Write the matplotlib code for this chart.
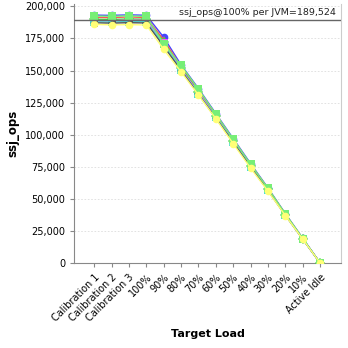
import matplotlib
matplotlib.use("Agg")
import matplotlib.pyplot as plt
from matplotlib.ticker import FuncFormatter

categories = ["Calibration 1", "Calibration 2", "Calibration 3", "100%", "90%", "80%",
              "70%", "60%", "50%", "40%", "30%", "20%", "10%", "Active Idle"]

# ssj_ops per JVM
jvm_1 = [193200, 193000, 193400, 193100, 176000, 154500, 136000, 116500, 97000, 77500, 58500, 38500, 19300, 0]
jvm_2 = [191500, 191200, 191800, 191300, 174000, 153000, 134500, 115500, 96000, 76500, 58000, 38000, 19000, 0]
jvm_3 = [190000, 189800, 190200, 190000, 172500, 152000, 133500, 114500, 95500, 76000, 57500, 37800, 18900, 0]
jvm_4 = [189000, 188800, 189300, 189000, 171500, 151000, 133000, 114000, 95000, 75500, 57000, 37500, 18800, 0]
jvm_5 = [188000, 187800, 188200, 188000, 170500, 150500, 132000, 113500, 94500, 75000, 56800, 37300, 18700, 0]
jvm_6 = [187200, 187000, 187300, 187100, 169000, 150000, 131500, 113000, 94000, 74800, 56500, 37200, 18600, 0]
jvm_7 = [192500, 192300, 192600, 192200, 171000, 154000, 135500, 116000, 96500, 77000, 58200, 38300, 19100, 0]
jvm_8 = [186000, 185600, 185800, 185500, 166500, 149000, 131000, 112500, 93000, 74000, 56000, 37000, 18500, 0]

series = [jvm_1, jvm_2, jvm_3, jvm_4, jvm_5, jvm_6, jvm_7, jvm_8]
colors = ["#4444ff", "#ff5555", "#44cc44", "#ff55ff", "#44dddd", "#555555", "#77ee77", "#ffff77"]
markers = ["o", "^", "D", "v", "s", "<", "s", "o"]
ref_value = 189524

fig = plt.figure(figsize=(3.48, 3.48), dpi=100)
ax = fig.add_axes([0.213, 0.244, 0.767, 0.745])

x = list(range(len(categories)))
for vals, c, m in zip(series, colors, markers):
    ax.plot(x, vals, color=c, marker=m, markersize=5.5, linewidth=1.0,
            markeredgewidth=0, zorder=3)

ax.axhline(ref_value, color="#666666", linewidth=1.0, zorder=4)
ax.text(13.9, ref_value + 2500, "ssj_ops@100% per JVM=189,524", ha="right", va="bottom",
        fontsize=6.8, color="#222222")

ax.set_xlim(-1.15, 14.2)
ax.set_ylim(0, 202000)
ax.set_yticks(range(0, 200001, 25000))
ax.yaxis.set_major_formatter(FuncFormatter(lambda v, p: f"{int(v):,}"))
ax.set_xticks(x)
ax.set_xticklabels(categories, rotation=45, ha="right", rotation_mode="anchor", fontsize=7)
ax.tick_params(axis="y", labelsize=7, length=3, color="#888888")
ax.tick_params(axis="x", length=3, color="#888888")
ax.grid(axis="y", color="#dddddd", linestyle=(0, (2, 2)), linewidth=0.6)
ax.set_axisbelow(True)
ax.spines["top"].set_visible(False)
for s in ["left", "bottom"]:
    ax.spines[s].set_color("#888888")
ax.spines["right"].set_color("#cccccc")

ax.set_xlabel("Target Load", fontsize=8, fontweight="bold")
ax.set_ylabel("ssj_ops", fontsize=8.5, fontweight="bold")

fig.savefig("out.png", dpi=100)
